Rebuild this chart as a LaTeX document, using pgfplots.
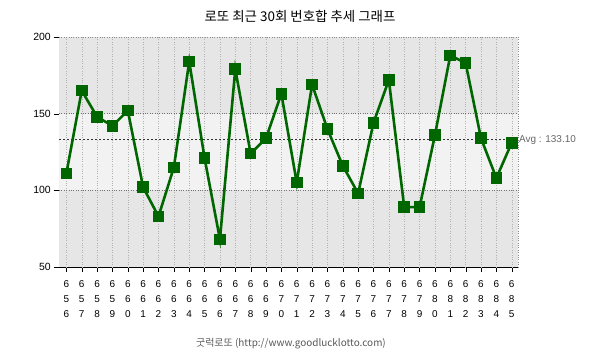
\documentclass[border=0pt]{standalone}
\usepackage{fontspec}
\setmainfont{Liberation Sans}
\newfontfamily\kr{Noto Sans CJK KR}
\usepackage{pgfplots}
\pgfplotsset{compat=1.18}
\definecolor{lgreen}{HTML}{006600}
\definecolor{bandD}{HTML}{E6E6E6}
\definecolor{bandL}{HTML}{F2F2F2}
\begin{document}
\begin{tikzpicture}
\path[use as bounding box] (0,0) rectangle (605bp,359bp);
\node[font=\kr\fontsize{13.5}{15}\selectfont] at (300bp,343bp) {로또 최근 30회 번호합 추세 그래프};
\node[font=\kr\fontsize{10}{12}\selectfont, text=black!65] at (291bp,15bp) {굿럭로또 (http://www.goodlucklotto.com)};
\begin{axis}[
  at={(59bp,92bp)}, anchor=south west, scale only axis,
  width=459bp, height=230bp,
  xmin=-0.48, xmax=29.41, ymin=50, ymax=200,
  axis lines=left, axis line style={-, black},
  ytick={50,100,150,200},
  xtick={0,...,29},
  xticklabels={{6\\5\\6},{6\\5\\7},{6\\5\\8},{6\\5\\9},{6\\6\\0},{6\\6\\1},{6\\6\\2},{6\\6\\3},{6\\6\\4},{6\\6\\5},{6\\6\\6},{6\\6\\7},{6\\6\\8},{6\\6\\9},{6\\7\\0},{6\\7\\1},{6\\7\\2},{6\\7\\3},{6\\7\\4},{6\\7\\5},{6\\7\\6},{6\\7\\7},{6\\7\\8},{6\\7\\9},{6\\8\\0},{6\\8\\1},{6\\8\\2},{6\\8\\3},{6\\8\\4},{6\\8\\5}},
  xticklabel style={align=center, font=\fontsize{10}{15}\selectfont, inner sep=1bp, yshift=-7bp},
  yticklabel style={font=\fontsize{10.5}{12}\selectfont, inner sep=1bp, xshift=-2bp},
  /pgf/number format/assume math mode=true,
  tick align=outside, major tick length=5bp, tick style={black},
  clip=false,
]
\fill[bandD] (axis cs:-0.48,150) rectangle (axis cs:29.41,200);
\fill[bandL] (axis cs:-0.48,100) rectangle (axis cs:29.41,150);
\fill[bandD] (axis cs:-0.48,50) rectangle (axis cs:29.41,100);
\pgfplotsinvokeforeach{0,...,29}{
  \draw[dotted, black!30] (axis cs:#1,50) -- (axis cs:#1,200);
}
\draw[dotted, black!45] (axis cs:-0.48,200) -- (axis cs:29.41,200) -- (axis cs:29.41,50);
\draw[dotted, black!55] (axis cs:-0.48,150) -- (axis cs:29.41,150);
\draw[dotted, black!55] (axis cs:-0.48,100) -- (axis cs:29.41,100);
\draw[dashed, dash pattern=on 2bp off 2bp, black!80] (axis cs:-0.48,133.1) -- (axis cs:29.41,133.1);
\node[anchor=west, inner sep=1bp, font=\fontsize{10}{12}\selectfont, text=black!60] at (axis cs:29.41,133.1) {Avg : 133.10};
\addplot[color=lgreen, line width=2.6bp, mark=square*, mark size=4.5bp, mark options={fill=lgreen}] coordinates {
(0,111) (1,165) (2,148) (3,142) (4,152) (5,102) (6,83) (7,115) (8,184) (9,121)
(10,68) (11,179) (12,124) (13,134) (14,163) (15,105) (16,169) (17,140) (18,116) (19,98)
(20,144) (21,172) (22,89) (23,89) (24,136) (25,188) (26,183) (27,134) (28,108) (29,131)
};
\end{axis}
\end{tikzpicture}
\end{document}
